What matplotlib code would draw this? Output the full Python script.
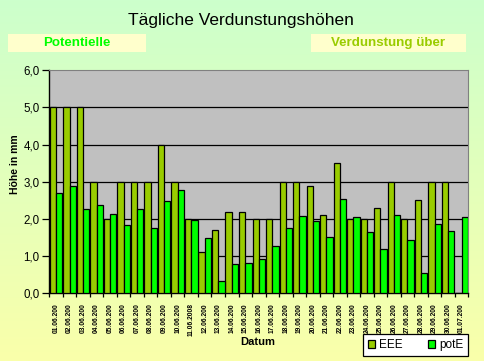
import numpy as np
import matplotlib.pyplot as plt
from matplotlib.patches import Rectangle

# Daten
datum = ['01.06.200', '02.06.200', '03.06.200', '04.06.200', '05.06.200', '06.06.200',
         '07.06.200', '08.06.200', '09.06.200', '10.06.200', '11.06.2008', '12.06.200',
         '13.06.200', '14.06.200', '15.06.200', '16.06.200', '17.06.200', '18.06.200',
         '19.06.200', '20.06.200', '21.06.200', '22.06.200', '23.06.200', '24.06.200',
         '25.06.200', '26.06.200', '27.06.200', '28.06.200', '29.06.200', '30.06.200',
         '01.07.200']
eee = [5.0, 5.0, 5.0, 3.0, 2.0, 3.0, 3.0, 3.0, 4.0, 3.0, 2.0, 1.1, 1.7, 2.2, 2.2, 2.0,
       2.0, 3.0, 3.0, 2.9, 2.1, 3.5, 2.0, 2.0, 2.3, 3.0, 2.0, 2.5, 3.0, 3.0, 0.0]
pote = [2.69, 2.88, 2.26, 2.37, 2.13, 1.83, 2.26, 1.75, 2.48, 2.77, 1.96, 1.48, 0.32,
        0.78, 0.81, 0.93, 1.26, 1.75, 2.07, 1.94, 1.51, 2.53, 2.04, 1.64, 1.18, 2.10,
        1.43, 0.54, 1.86, 1.67, 2.04]
yticks = [0, 1, 2, 3, 4, 5, 6]

plt.rcParams['font.family'] = ['Liberation Sans', 'DejaVu Sans']

fig = plt.figure(figsize=(4.84, 3.61), dpi=100)

# Hintergrund-Verlauf
bg = fig.add_axes([0, 0, 1, 1], zorder=-10)
grad = np.linspace(0, 1, 256)[:, None]
top = np.array([204, 255, 204]) / 255
bot = np.array([250, 255, 170]) / 255
img = top[None, None, :] * (1 - grad[..., None]) + bot[None, None, :] * grad[..., None]
bg.imshow(img, aspect='auto', extent=[0, 1, 0, 1])
bg.axis('off')

ax = fig.add_axes([49.3 / 484, 1 - 293.3 / 361, 419 / 484, 223 / 361])
ax.set_facecolor('#C0C0C0')

x = np.arange(len(datum))
w = 0.465
ax.bar(x - w / 2, eee, w, color='#99CC00', edgecolor='black', linewidth=0.9, label='EEE', zorder=3)
ax.bar(x + w / 2, pote, w, color='#00FF00', edgecolor='black', linewidth=0.9, label='potE', zorder=3)

ax.set_xlim(-0.5, len(datum) - 0.5)
ax.set_ylim(0, 6)
ax.set_yticks(yticks)
ax.set_yticklabels([f'{v},0' for v in yticks], fontsize=8.3)
for v in yticks[1:-1]:
    ax.axhline(v, color='black', linewidth=0.9, zorder=1)

ax.set_xticks(x)
ax.set_xticklabels(datum, rotation=90, fontsize=4.8, fontweight='bold', va='top')
ax.set_xticks(np.arange(len(datum) + 1) - 0.5, minor=True)
ax.tick_params(axis='x', which='major', length=0, pad=7)
ax.tick_params(axis='x', which='minor', length=3, width=0.9, direction='out')
ax.tick_params(axis='y', length=5, width=0.9, direction='out', pad=2)

for s in ['top', 'right']:
    ax.spines[s].set_color('#808080')
for s in ['left', 'bottom']:
    ax.spines[s].set_color('black')
    ax.spines[s].set_linewidth(1.0)

fig.text(15 / 484, 1 - 164 / 361, 'Höhe in mm', rotation=90, ha='center', va='center',
         fontsize=7.5, fontweight='bold')
fig.text(258 / 484, 1 - 342 / 361, 'Datum', ha='center', va='center',
         fontsize=8, fontweight='bold')

fig.text(241 / 484, 1 - 20 / 361, 'Tägliche Verdunstungshöhen', ha='center', va='center',
         fontsize=12.5)

# Textfelder oben
for x0, x1, txt, col in [(8, 146, 'Potentielle', '#00FF00'),
                         (311, 466, 'Verdunstung über', '#99CC00')]:
    fig.patches.append(Rectangle((x0 / 484, 1 - 52 / 361), (x1 - x0) / 484, 18.5 / 361,
                                 transform=fig.transFigure, facecolor='#FFFFCC',
                                 edgecolor='none', zorder=1))
    fig.text((x0 + x1) / 2 / 484, 1 - 43 / 361, txt, ha='center', va='center',
             fontsize=9.6, fontweight='bold', color=col, zorder=2)

leg = fig.legend(loc='center', bbox_to_anchor=(415.5 / 484, 1 - 345 / 361), ncol=2,
                 fontsize=8.5, frameon=True, fancybox=False, edgecolor='black',
                 framealpha=1, handlelength=0.6, handleheight=0.6, handletextpad=0.3,
                 columnspacing=2.2, borderpad=0.45)
leg.get_frame().set_linewidth(0.9)

fig.savefig('out.png', dpi=100)
